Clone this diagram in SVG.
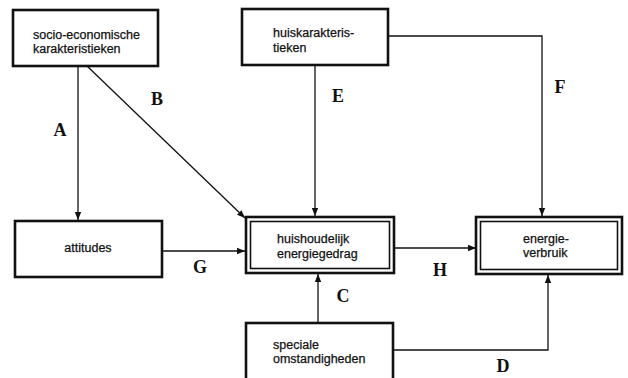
<svg xmlns="http://www.w3.org/2000/svg" width="628" height="378" viewBox="0 0 628 378">
<style>
.box{fill:#fff;stroke:#111;stroke-width:2.6}
.inner{fill:none;stroke:#111;stroke-width:1.6}
.t{font-family:"Liberation Sans",Arial,sans-serif;font-size:12.5px;fill:#111;stroke:#111;stroke-width:0.25}
.lab{font-family:"Liberation Serif","Times New Roman",serif;font-weight:bold;font-size:18px;fill:#111;text-anchor:middle}
.c{fill:none;stroke:#111;stroke-width:1.3}
</style>
<defs>
<marker id="ah" viewBox="0 0 10 10" refX="10" refY="5" markerWidth="8" markerHeight="8" markerUnits="userSpaceOnUse" orient="auto">
<path d="M0,1 L10,5 L0,9 z" fill="#111"/>
</marker>
</defs>
<rect width="628" height="378" fill="#fff"/>
<g id="connectors">
<path class="c" d="M78,66 V220" marker-end="url(#ah)"/>
<path class="c" d="M87,66 L245,218" marker-end="url(#ah)"/>
<path class="c" d="M315,65 V216" marker-end="url(#ah)"/>
<path class="c" d="M388,36 H542 V216" marker-end="url(#ah)"/>
<path class="c" d="M162,251 H245" marker-end="url(#ah)"/>
<path class="c" d="M394,248 H476" marker-end="url(#ah)"/>
<path class="c" d="M318,323 V274" marker-end="url(#ah)"/>
<path class="c" d="M393,350 H548 V275" marker-end="url(#ah)"/>
<text class="lab" x="60" y="136">A</text>
<text class="lab" x="157" y="105">B</text>
<text class="lab" x="338" y="102">E</text>
<text class="lab" x="560" y="93">F</text>
<text class="lab" x="200" y="273">G</text>
<text class="lab" x="440" y="276">H</text>
<text class="lab" x="343" y="302">C</text>
<text class="lab" x="503" y="372">D</text>
</g>
<g id="socio">
<rect class="box" x="13" y="10" width="145" height="56"/>
<text class="t" x="33" y="39">socio-economische</text>
<text class="t" x="33" y="53">karakteristieken</text>
</g>
<g id="huis">
<rect class="box" x="242" y="9" width="146" height="56"/>
<text class="t" x="273" y="37">huiskarakteris-</text>
<text class="t" x="273" y="52">tieken</text>
</g>
<g id="attitudes">
<rect class="box" x="15" y="221" width="147" height="56"/>
<text class="t" x="88" y="252" text-anchor="middle">attitudes</text>
</g>
<g id="gedrag">
<rect class="box" x="246" y="217" width="148" height="56"/>
<rect class="inner" x="250.5" y="221.5" width="139" height="47"/>
<text class="t" x="277" y="243">huishoudelijk</text>
<text class="t" x="277" y="258">energiegedrag</text>
</g>
<g id="verbruik">
<rect class="box" x="476" y="217" width="146" height="57"/>
<rect class="inner" x="480.5" y="221.5" width="137" height="48"/>
<text class="t" x="523" y="243">energie-</text>
<text class="t" x="523" y="257">verbruik</text>
</g>
<g id="speciale">
<rect class="box" x="246" y="323" width="147" height="60"/>
<text class="t" x="273" y="349">speciale</text>
<text class="t" x="273" y="363">omstandigheden</text>
</g>
</svg>
